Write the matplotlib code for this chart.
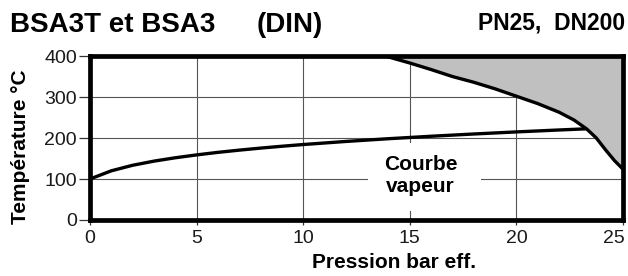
import matplotlib
matplotlib.use("Agg")
import matplotlib.pyplot as plt
import matplotlib.transforms as mtransforms
from matplotlib.patches import Rectangle

plt.rcParams['font.family'] = ['Liberation Sans', 'DejaVu Sans']

# Vapour saturation curve (gauge pressure bar -> temperature °C)
vap_p = [0, 1, 2, 3, 4, 5, 6, 7, 8, 9, 10, 12, 14, 16, 18, 20, 22, 23.3]
vap_t = [100, 120, 133.5, 143.6, 151.8, 158.8, 165, 170.4, 175.4, 179.9,
         184.1, 191.6, 198.3, 204.3, 209.8, 214.9, 219.6, 222.5]

# Limit curve (shaded zone above = not allowed)
lim_p = [13.85, 15, 16, 17, 18, 19, 20, 21, 22, 22.7, 23.3, 23.75, 24.2, 24.6, 25]
lim_t = [400, 383, 367, 350, 336, 320, 302, 284, 263, 244, 222, 200, 170, 145, 124]

x_ticks = [0, 5, 10, 15, 20, 25]
y_ticks = [0, 100, 200, 300, 400]

fig = plt.figure(figsize=(6.28, 2.76), dpi=100)
ax = fig.add_axes([0.1433, 0.2029, 0.8487, 0.5941])

ax.set_xlim(0, 25)
ax.set_ylim(0, 400)
ax.set_xticks(x_ticks)
ax.set_yticks(y_ticks)
ax.set_xticklabels([str(v) for v in x_ticks])
ax.set_yticklabels([str(v) for v in y_ticks])

ax.set_axisbelow(True)
ax.grid(True, color='#555555', linewidth=0.8)

ax.fill_between(lim_p, lim_t, 400, color='#c0c0c0', linewidth=0, zorder=1.2)
ax.plot(lim_p, lim_t, color='black', linewidth=2.4, zorder=3,
        solid_capstyle='butt')
ax.plot(vap_p, vap_t, color='black', linewidth=2.4, zorder=3,
        solid_capstyle='butt')

# white box behind the curve label
ax.add_patch(Rectangle((13.03, 22), 5.3, 165, facecolor='white',
                       edgecolor='none', zorder=1.1))
ax.text(15.5, 108, "Courbe\nvapeur", ha='center', va='center',
        fontsize=15, fontweight='bold', linespacing=1.2, zorder=4)

for s in ax.spines.values():
    s.set_linewidth(3.4)
    s.set_color('black')
    s.set_zorder(5)

ax.tick_params(axis='y', direction='out', length=8, width=0.9,
               color='#333333', pad=1.5, labelsize=14, labelcolor='#1a1a1a')
ax.tick_params(axis='x', direction='out', length=3.5, width=0.9,
               color='#333333', pad=3.5, labelsize=14, labelcolor='#1a1a1a')

# keep the last x label inside the figure
last = ax.get_xticklabels()[-1]
last.set_transform(last.get_transform() +
                   mtransforms.ScaledTranslation(-6.5 / 72, 0, fig.dpi_scale_trans))

ax.set_xlabel("Pression bar eff.", fontsize=15, fontweight='bold')
ax.xaxis.set_label_coords(0.571, -0.20)
ax.set_ylabel("Température °C", fontsize=15, fontweight='bold')
ax.yaxis.set_label_coords(-0.113, 0.45)

fig.text(10 / 628, 1 - 31.7 / 276, "BSA3T et BSA3", fontsize=20,
         fontweight='bold', ha='left', va='baseline')
fig.text(257 / 628, 1 - 31.7 / 276, "(DIN)", fontsize=20,
         fontweight='bold', ha='left', va='baseline')
fig.text(625 / 628, 1 - 29.3 / 276, "PN25,  DN200", fontsize=16.5,
         fontweight='bold', ha='right', va='baseline')

fig.savefig("out.png", dpi=100)
